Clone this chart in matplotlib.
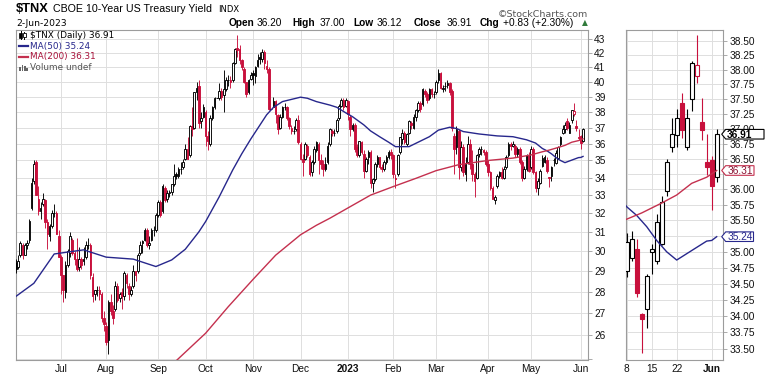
import numpy as np
import pandas as pd
import matplotlib
matplotlib.use("Agg")
import matplotlib.pyplot as plt
from matplotlib.patches import Rectangle, Polygon
from matplotlib.lines import Line2D
from matplotlib.ticker import NullLocator

plt.rcParams['font.family'] = ['Liberation Sans', 'DejaVu Sans']

# ---------------- data ----------------
HOLIDAYS = ['2022-06-20', '2022-07-04', '2022-09-05', '2022-11-24', '2022-12-26',
            '2023-01-02', '2023-01-16', '2023-02-20', '2023-04-07', '2023-05-29']

OPEN = [
    # Jun 2022
    29.4, 29.2, 29.8, 30.3, 29.8, 30.3, 30.6, 32.3, 33.8, 34.9, 32.8, 32.1, 32.5, 32.7, 31.5, 30.8, 31.3, 32.0, 32.0, 30.8,
    # Jul
    29.7, 28.8, 28.0, 29.3, 29.9, 30.6, 29.9, 29.6, 29.2, 29.6, 29.5, 29.7, 30.3, 30.3, 28.7, 27.9, 28.1, 28.1, 27.9, 26.8,
    # Aug
    26.4, 25.8, 27.5, 27.1, 27.2, 28.3, 27.7, 28.0, 27.8, 28.8, 28.3, 27.9, 28.3, 29.0, 29.0, 29.9, 30.4, 30.6, 31.1, 30.3, 30.6, 31.1, 31.1,
    # Sep
    31.9, 32.6, 32.1, 33.4, 32.8, 33.1, 33.2, 33.6, 34.2, 34.1, 34.5, 34.6, 35.1, 35.7, 35.3, 37.1, 37.0, 39.3, 39.7, 37.4, 37.7,
    # Oct
    38.0, 36.5, 36.0, 37.6, 38.3, 38.9, 38.9, 39.4, 39.1, 39.5, 40.1, 40.1, 40.1, 41.3, 42.4, 42.3, 41.5, 40.9, 40.0, 39.3, 40.2,
    # Nov
    40.6, 40.4, 41.1, 41.7, 41.6, 42.1, 41.1, 40.9, 38.2, 38.3, 38.7, 37.8, 37.0, 37.7, 38.3, 38.3, 37.6, 37.0, 36.8, 36.9, 37.5,
    # Dec
    36.0, 35.1, 35.1, 35.9, 35.2, 34.3, 34.9, 35.6, 36.0, 35.0, 34.8, 34.5, 34.9, 36.0, 36.8, 36.7, 36.8, 37.6, 38.4, 38.8, 38.4,
    # Jan 2023
    38.7, 37.7, 36.9, 37.2, 35.8, 35.3, 36.1, 35.4, 34.4, 35.2, 35.5, 33.7, 33.9, 34.8, 35.2, 34.6, 34.5, 34.9, 35.2, 35.5,
    # Feb
    35.3, 34.0, 34.2, 35.5, 36.3, 36.7, 36.0, 36.7, 37.3, 37.0, 37.7, 38.1, 38.6, 38.5, 39.4, 39.2, 38.9, 39.5, 39.2,
    # Mar
    39.3, 40.1, 40.6, 39.5, 39.7, 39.8, 39.9, 39.4, 36.5, 35.8, 36.8, 34.6, 35.8, 34.2, 34.9, 36.0, 34.8, 34.2, 34.0, 35.4, 35.7, 35.6, 35.5,
    # Apr
    34.8, 34.3, 33.4, 32.7, 33.5, 34.1, 34.3, 34.0, 34.6, 35.3, 36.0, 35.9, 35.9, 35.4, 35.7, 34.9, 34.0, 34.5, 35.3,
    # May
    34.6, 35.7, 34.3, 33.4, 33.7, 34.7, 34.9, 35.05, 34.03, 34.11, 35.0, 34.85, 35.13, 35.98, 36.69, 36.89, 37.43, 36.70, 37.51, 37.89, 37.12, 36.45,
    # Jun
    36.49, 36.20,
]
HIGH = [
    29.6, 29.8, 30.5, 30.4, 30.4, 30.6, 31.7, 34.0, 35.0, 35.0, 33.5, 32.6, 33.1, 32.8, 31.7, 31.4, 32.2, 32.5, 32.1, 31.1,
    29.8, 28.8, 29.5, 30.1, 31.0, 30.7, 30.0, 30.7, 30.2, 29.7, 30.2, 30.5, 30.7, 30.4, 28.9, 28.1, 28.3, 28.3, 28.0, 27.1,
    26.6, 27.6, 27.9, 27.4, 28.5, 28.4, 28.0, 28.2, 29.0, 28.9, 28.4, 28.3, 29.3, 29.0, 29.9, 30.5, 30.6, 31.2, 31.2, 30.8, 31.2, 31.3, 32.0,
    32.7, 32.7, 33.6, 33.5, 33.3, 33.3, 33.6, 34.8, 34.3, 34.6, 34.9, 35.1, 36.0, 36.4, 37.2, 38.3, 39.3, 40.0, 40.1, 38.0, 38.5,
    38.1, 36.8, 37.8, 38.4, 39.0, 38.9, 39.9, 39.6, 40.8, 40.3, 40.5, 40.4, 41.4, 42.4, 43.3, 42.6, 41.6, 41.0, 40.0, 40.2, 40.7,
    40.8, 41.1, 41.9, 42.1, 42.3, 42.2, 41.5, 41.0, 38.2, 39.0, 38.8, 37.9, 37.9, 38.4, 38.6, 38.4, 37.7, 37.2, 37.1, 37.6, 37.8,
    36.1, 35.4, 36.1, 36.0, 35.3, 35.0, 35.9, 36.2, 36.1, 35.4, 35.0, 35.2, 36.1, 37.0, 36.9, 36.9, 37.6, 38.5, 38.9, 38.9, 38.9,
    38.8, 37.8, 37.3, 37.3, 36.0, 36.2, 36.2, 35.6, 35.2, 35.6, 35.6, 34.0, 34.9, 35.3, 35.2, 34.8, 35.0, 35.3, 35.6, 35.7,
    35.4, 34.2, 35.4, 36.4, 36.9, 36.8, 36.7, 37.5, 37.4, 37.9, 38.2, 38.7, 38.7, 39.6, 39.5, 39.3, 39.6, 39.6, 39.4,
    40.1, 40.9, 40.7, 39.8, 40.0, 40.1, 40.0, 39.5, 36.7, 37.1, 36.9, 36.2, 36.0, 35.2, 36.5, 36.3, 35.6, 34.3, 35.4, 35.8, 35.9, 35.7, 35.6,
    35.0, 34.4, 33.5, 33.0, 34.2, 34.4, 34.6, 34.7, 35.3, 36.1, 36.1, 36.2, 36.0, 35.8, 35.8, 35.0, 34.7, 35.4, 35.5,
    35.9, 35.8, 34.4, 34.0, 34.5, 35.3, 35.33, 35.2, 34.05, 34.65, 35.12, 35.6, 35.89, 36.5, 37.19, 37.34, 37.6, 37.34, 38.15, 38.6, 37.52, 36.91,
    36.55, 37.00,
]
LOW = [
    28.9, 29.1, 29.7, 29.6, 29.8, 30.1, 30.4, 32.2, 33.6, 33.0, 31.9, 31.7, 32.4, 31.2, 30.1, 30.5, 31.2, 31.8, 30.9, 29.7,
    27.9, 27.5, 27.7, 29.2, 29.7, 29.8, 29.3, 29.0, 29.0, 29.1, 29.3, 29.6, 30.1, 28.6, 27.5, 27.6, 27.8, 27.6, 26.6, 26.2,
    25.6, 25.2, 26.9, 26.5, 27.1, 27.5, 27.5, 27.2, 27.6, 28.2, 27.6, 27.8, 28.2, 28.5, 28.9, 29.8, 29.9, 30.5, 30.2, 30.1, 30.5, 30.8, 31.0,
    31.8, 31.8, 32.0, 32.6, 32.6, 32.9, 33.0, 33.5, 33.9, 34.0, 34.2, 34.5, 35.0, 35.1, 35.2, 36.5, 36.9, 38.8, 37.0, 37.0, 37.6,
    35.9, 35.6, 35.9, 37.5, 38.2, 38.9, 38.8, 38.8, 38.0, 39.4, 39.7, 39.6, 40.0, 41.2, 41.7, 41.2, 40.8, 39.9, 39.0, 39.2, 40.1,
    39.8, 39.9, 41.0, 41.2, 41.4, 40.9, 40.6, 38.1, 38.2, 38.3, 37.3, 36.6, 36.9, 37.6, 38.1, 37.5, 36.9, 36.6, 36.6, 36.8, 36.0,
    35.0, 34.1, 35.0, 35.2, 34.1, 34.1, 34.8, 35.5, 34.2, 34.5, 34.1, 34.4, 34.8, 35.9, 36.5, 36.5, 36.7, 37.5, 38.3, 38.1, 38.3,
    37.5, 36.5, 36.8, 35.5, 35.2, 35.2, 35.4, 34.0, 34.3, 34.8, 33.4, 33.2, 33.8, 34.6, 34.5, 34.3, 34.4, 34.8, 35.1, 35.1,
    34.0, 33.4, 34.1, 35.4, 36.0, 36.0, 35.9, 36.6, 36.9, 36.9, 37.4, 38.0, 38.0, 38.4, 39.0, 38.6, 38.8, 39.0, 38.9,
    39.2, 39.9, 39.5, 39.3, 39.4, 39.6, 39.1, 36.8, 34.2, 35.4, 33.9, 34.4, 34.1, 33.8, 34.8, 34.5, 33.8, 32.9, 33.9, 35.2, 35.3, 35.3, 34.7,
    34.1, 33.3, 32.8, 32.5, 33.4, 34.0, 33.9, 33.9, 34.5, 35.2, 35.6, 35.8, 35.2, 35.2, 34.8, 33.8, 33.9, 34.4, 34.3,
    34.5, 34.2, 33.2, 33.0, 33.6, 34.6, 34.85, 34.29, 33.43, 33.81, 34.65, 34.8, 35.1, 35.9, 36.61, 36.70, 36.85, 36.65, 37.3, 37.77, 36.82, 36.23,
    35.67, 36.12,
]
CLOSE = [
    29.1, 29.5, 30.4, 29.8, 30.3, 30.4, 31.6, 33.7, 34.8, 33.0, 32.1, 32.3, 32.8, 31.5, 30.9, 31.3, 32.0, 32.0, 30.9, 29.7,
    28.8, 28.1, 29.3, 30.0, 30.8, 29.9, 29.6, 29.1, 29.6, 29.3, 29.6, 30.3, 30.3, 28.8, 27.8, 28.1, 28.1, 27.9, 26.8, 26.5,
    25.7, 27.5, 27.1, 26.8, 28.3, 27.6, 27.9, 27.8, 28.9, 28.4, 27.9, 28.1, 29.0, 28.8, 29.8, 30.3, 30.5, 31.1, 30.3, 30.4, 31.1, 31.1, 31.9,
    32.6, 31.9, 33.5, 32.7, 33.1, 33.2, 33.6, 34.1, 34.1, 34.5, 34.5, 34.9, 35.7, 35.1, 37.1, 36.9, 39.3, 39.6, 37.3, 37.6, 38.3,
    36.5, 36.2, 37.6, 38.3, 38.9, 38.9, 39.4, 39.0, 39.5, 40.1, 40.1, 40.0, 41.3, 42.3, 42.2, 41.5, 41.0, 40.0, 39.2, 40.1, 40.5,
    40.5, 41.0, 41.5, 41.6, 42.1, 41.3, 40.9, 38.2, 38.2, 38.7, 37.9, 36.9, 37.7, 38.3, 38.3, 37.6, 37.1, 36.8, 36.8, 37.5, 36.1,
    35.1, 34.9, 36.0, 35.3, 34.2, 34.9, 35.7, 36.1, 35.0, 34.8, 34.5, 34.8, 35.9, 36.9, 36.7, 36.7, 37.5, 38.4, 38.8, 38.3, 38.8,
    37.9, 36.9, 37.2, 35.7, 35.3, 36.2, 35.5, 34.4, 35.1, 35.5, 33.7, 33.9, 34.8, 35.2, 34.6, 34.5, 34.9, 35.2, 35.5, 35.3,
    34.2, 33.9, 35.3, 36.4, 36.7, 36.1, 36.6, 37.4, 37.2, 37.7, 38.1, 38.6, 38.2, 39.5, 39.2, 38.8, 39.5, 39.2, 39.2,
    40.0, 40.6, 39.6, 39.6, 39.7, 39.9, 39.3, 37.0, 35.7, 36.9, 34.6, 35.8, 34.3, 34.8, 36.0, 34.8, 34.2, 33.8, 35.3, 35.7, 35.7, 35.5, 34.8,
    34.3, 33.4, 32.8, 32.9, 34.1, 34.3, 34.0, 34.5, 35.2, 36.0, 35.9, 36.0, 35.4, 35.7, 34.9, 34.0, 34.5, 35.3, 34.4,
    35.7, 34.3, 33.4, 33.8, 34.4, 35.15, 35.2, 34.36, 33.95, 34.62, 35.05, 35.47, 35.79, 36.45, 36.91, 37.18, 36.98, 37.18, 38.12, 38.09, 36.98, 36.36,
    36.06, 36.91,
]

MA50_DATES = ['2022-06-02', '2022-06-14', '2022-06-28', '2022-07-18', '2022-08-01', '2022-08-17',
              '2022-08-31', '2022-09-12', '2022-09-20', '2022-09-28', '2022-10-03', '2022-10-11',
              '2022-10-19', '2022-10-25', '2022-10-31', '2022-11-09', '2022-11-14', '2022-11-18',
              '2022-12-01', '2022-12-06', '2022-12-12', '2022-12-20', '2022-12-23', '2022-12-30',
              '2023-01-05', '2023-01-12', '2023-01-18', '2023-01-24', '2023-01-30', '2023-02-02',
              '2023-02-10', '2023-02-16', '2023-02-24', '2023-03-02', '2023-03-09', '2023-03-14',
              '2023-03-17', '2023-03-28', '2023-04-10', '2023-04-19', '2023-04-27', '2023-05-03',
              '2023-05-08', '2023-05-10', '2023-05-12', '2023-05-16', '2023-05-18', '2023-05-22',
              '2023-05-24', '2023-05-26', '2023-05-31', '2023-06-01', '2023-06-02']
MA50_VALUES = [27.78, 28.41, 29.86, 30.07, 29.70, 29.60,
               29.23, 29.56, 30.10, 31.00, 31.55, 32.90,
               34.44, 35.40, 36.30, 37.82, 38.30, 38.68,
               38.97, 38.90, 38.68, 38.45, 38.31, 37.95,
               37.70, 37.18, 36.80, 36.44, 36.10, 35.83,
               35.83, 36.10, 36.44, 36.85, 37.03, 36.95,
               36.76, 36.61, 36.49, 36.44, 36.25, 36.05,
               35.72, 35.58, 35.40, 35.18, 35.00, 34.87,
               34.97, 35.07, 35.17, 35.18, 35.24]

MA200_DATES = ['2022-09-01', '2022-09-15', '2022-10-03', '2022-10-17', '2022-11-01', '2022-11-15',
               '2022-12-01', '2022-12-12', '2022-12-20', '2023-01-04', '2023-01-18', '2023-02-01',
               '2023-02-15', '2023-03-01', '2023-03-15', '2023-04-03', '2023-04-19', '2023-05-01',
               '2023-05-08', '2023-05-11', '2023-05-17', '2023-05-22', '2023-05-25', '2023-05-31',
               '2023-06-02']
MA200_VALUES = [24.20, 25.00, 26.10, 27.30, 28.60, 29.80,
                30.85, 31.35, 31.73, 32.36, 33.00, 33.48,
                33.95, 34.40, 34.75, 35.00, 35.14, 35.33,
                35.52, 35.62, 35.78, 35.91, 36.10, 36.20,
                36.31]

MAIN_YTICKS = [25, 26, 27, 28, 29, 30, 31, 32, 33, 34, 35, 36, 37, 38, 39, 40, 41, 42, 43]
ZOOM_YTICKS = [33.50, 33.75, 34.00, 34.25, 34.50, 34.75, 35.00, 35.25, 35.50, 35.75, 36.00,
               36.25, 36.50, 36.75, 37.00, 37.25, 37.50, 37.75, 38.00, 38.25, 38.50]
ZOOM_HIDDEN_LABELS = [35.25, 36.25]   # covered by the value tags in the reference
MONTH_LABELS = ['Jul', 'Aug', 'Sep', 'Oct', 'Nov', 'Dec', '2023', 'Feb', 'Mar', 'Apr', 'May', 'Jun']
ZOOM_XDATES = ['2023-05-08', '2023-05-15', '2023-05-22', '2023-06-01']
ZOOM_XLABELS = ['8', '15', '22', 'Jun']
LAST_CLOSE, LAST_MA50, LAST_MA200 = 36.91, 35.24, 36.31

# ---------------- styling ----------------
INK = '#000000'
RED = '#c8103c'
MA50_COLOR = '#27278c'
MA200_COLOR = '#c4304e'
GRID = '#dedede'
SPINE = '#9c9c9c'

W, H = 770, 376
fig = plt.figure(figsize=(W / 100, H / 100), dpi=100)
fig.patch.set_facecolor('white')


def fx(x):
    return x / W


def fy(y):
    return 1 - y / H


TOP, BOT = 30, 360
ax = fig.add_axes([fx(16), fy(BOT), (588 - 16) / W, (BOT - TOP) / H])
axz = fig.add_axes([fx(626), fy(BOT), (723 - 626) / W, (BOT - TOP) / H])

dates = pd.bdate_range('2022-06-02', '2023-06-02', freq='C', holidays=HOLIDAYS)
n = len(dates)
pos = {d.strftime('%Y-%m-%d'): i for i, d in enumerate(dates)}
m = min(n, len(CLOSE))


def draw_candles(a, width, lw):
    prev = None
    for i in range(m):
        o, h, l, c = OPEN[i], HIGH[i], LOW[i], CLOSE[i]
        col = INK if (prev is None or c >= prev) else RED
        prev = c
        a.vlines(i, l, h, colors=col, lw=lw, zorder=3)
        lo, hi = min(o, c), max(o, c)
        if hi / lo < 1.0012:
            a.hlines(c, i - width / 2, i + width / 2, colors=col, lw=lw, zorder=4)
            continue
        face = 'white' if c > o else col
        a.add_patch(Rectangle((i - width / 2, lo), width, hi - lo, facecolor=face,
                              edgecolor=col, lw=lw, zorder=4))


draw_candles(ax, 0.72, 0.65)
draw_candles(axz, 0.78, 0.8)

for a in (ax, axz):
    a.plot([pos[d] for d in MA50_DATES], MA50_VALUES, color=MA50_COLOR, lw=1.0, zorder=5)
    a.plot([pos[d] for d in MA200_DATES], MA200_VALUES, color=MA200_COLOR, lw=1.0, zorder=5)

for a in (ax, axz):
    a.set_yscale('log')
    a.set_facecolor('white')
    for s in a.spines.values():
        s.set_color(SPINE)
        s.set_linewidth(0.8)
    a.yaxis.tick_right()
    a.grid(True, color=GRID, lw=0.7, zorder=0)
    a.set_axisbelow(True)

ax.set_xlim(0.1, 253.2)
ax.set_ylim(24.94, 43.68)
axz.set_xlim(232.86, 252.26)
axz.set_ylim(33.33, 38.69)

ax.set_yticks(MAIN_YTICKS)
ax.set_yticklabels(['' if v == 25 else str(v) for v in MAIN_YTICKS])
axz.set_yticks(ZOOM_YTICKS)
axz.set_yticklabels(['' if v in ZOOM_HIDDEN_LABELS else '%.2f' % v for v in ZOOM_YTICKS])

month_starts = [i for i in range(1, n) if dates[i].month != dates[i - 1].month]
ax.set_xticks(month_starts)
ax.set_xticklabels(MONTH_LABELS)
axz.set_xticks([pos[d] for d in ZOOM_XDATES])
axz.set_xticklabels(ZOOM_XLABELS)

for a in (ax, axz):
    a.yaxis.set_minor_locator(NullLocator())
    a.xaxis.set_minor_locator(NullLocator())
    a.tick_params(axis='y', which='major', length=3, width=0.6, color=SPINE, pad=1.5,
                  labelsize=7.3, labelcolor='#111111')
    a.tick_params(axis='x', which='major', length=0, pad=3, labelsize=7.3, labelcolor='#111111')
for lab in ax.get_xticklabels():
    if lab.get_text() == '2023':
        lab.set_fontweight('bold')
for lab in axz.get_xticklabels():
    if lab.get_text() == 'Jun':
        lab.set_fontweight('bold')

# ---------------- value tags on zoom panel ----------------
to_fig = axz.transData + fig.transFigure.inverted()


def tag(v, text, color, txtcolor, bold, x_end):
    _, yfig = to_fig.transform((252.0, v))
    yc = (1 - yfig) * H
    pts = [(721.7, yc), (725.7, yc - 4.8), (x_end, yc - 4.8), (x_end, yc + 4.8), (725.7, yc + 4.8)]
    fig.add_artist(Polygon([(fx(x), fy(y)) for x, y in pts], closed=True,
                           transform=fig.transFigure, facecolor='white',
                           edgecolor=color, lw=0.8, zorder=10))
    fig.text(fx(727.2), fy(yc + 0.3), text, color=txtcolor, fontsize=7.3,
             fontweight='bold' if bold else 'normal', va='center', ha='left', zorder=11)


tag(LAST_CLOSE, '%.2f' % LAST_CLOSE, INK, INK, True, 764)
tag(LAST_MA200, '%.2f' % LAST_MA200, MA200_COLOR, '#8a1030', False, 754)
tag(LAST_MA50, '%.2f' % LAST_MA50, MA50_COLOR, MA50_COLOR, False, 753.5)

# ---------------- header ----------------
fig.text(fx(16), fy(8.6), '$TNX', fontsize=9.3, fontweight='bold', va='center', ha='left')
fig.text(fx(53), fy(8.6), 'CBOE 10-Year US Treasury Yield', fontsize=7.7, va='center', ha='left')
fig.text(fx(218), fy(9.3), 'INDX', fontsize=6.0, va='center', ha='left', family='DejaVu Sans')
fig.text(fx(16), fy(23), '2-Jun-2023', fontsize=6.6, va='center', ha='left', family='DejaVu Sans')
fig.text(fx(588), fy(14.5), '\u00a9StockCharts.com', fontsize=6.8, va='center', ha='right',
         color='#555555', family='DejaVu Sans')

hdr = [(228.3, 'Open', True), (256.7, '36.20', False),
       (292.7, 'High', True), (319.3, '37.00', False),
       (353.3, 'Low', True), (376.7, '36.12', False),
       (413.3, 'Close', True), (446.7, '36.91', False),
       (480.0, 'Chg', True), (503.3, '+0.83 (+2.30%)', False)]
for x, t, b in hdr:
    fig.text(fx(x), fy(23.5), t, fontsize=7.3, fontweight='bold' if b else 'normal',
             va='center', ha='left')
fig.text(fx(581.5), fy(23), '\u25b2', fontsize=5.5, color='#2f7a3a', va='center', ha='left',
         family='DejaVu Sans')

# ---------------- legend in main panel ----------------
def fline(x1, y1, x2, y2, color, lw):
    fig.add_artist(Line2D([fx(x1), fx(x2)], [fy(y1), fy(y2)], transform=fig.transFigure,
                          color=color, lw=lw, zorder=12))


fline(20.5, 30.8, 20.5, 39.2, INK, 0.7)
fig.add_artist(Rectangle((fx(19.3), fy(37.5)), 2.4 / W, 4.5 / H, transform=fig.transFigure,
                         facecolor=INK, edgecolor=INK, lw=0.5, zorder=12))
fline(24.5, 31.5, 24.5, 39.0, INK, 0.7)
fig.add_artist(Rectangle((fx(23.3), fy(37.0)), 2.4 / W, 4.0 / H, transform=fig.transFigure,
                         facecolor='white', edgecolor=INK, lw=0.6, zorder=13))
fig.text(fx(29.5), fy(35), '$TNX (Daily) %.2f' % LAST_CLOSE, fontsize=6.4, va='center',
         ha='left', family='DejaVu Sans', zorder=12)
fline(18.5, 46, 27.5, 46, MA50_COLOR, 1.6)
fig.text(fx(29.5), fy(46), 'MA(50) %.2f' % LAST_MA50, fontsize=6.4, va='center', ha='left',
         family='DejaVu Sans', color=MA50_COLOR, zorder=12)
fline(18.5, 57, 27.5, 57, MA200_COLOR, 1.6)
fig.text(fx(29.5), fy(57), 'MA(200) %.2f' % LAST_MA200, fontsize=6.4, va='center', ha='left',
         family='DejaVu Sans', color='#a8123a', zorder=12)
for bx, bh in ((19.2, 4.0), (21.6, 6.5), (24.0, 5.0), (26.2, 3.0)):
    fig.add_artist(Rectangle((fx(bx), fy(71)), 1.6 / W, bh / H, transform=fig.transFigure,
                             facecolor='#666666', edgecolor='none', zorder=12))
fig.text(fx(29.5), fy(67.5), 'Volume undef', fontsize=6.4, va='center', ha='left',
         family='DejaVu Sans', color='#555555', zorder=12)

fig.savefig('out.png', dpi=100, facecolor='white')
